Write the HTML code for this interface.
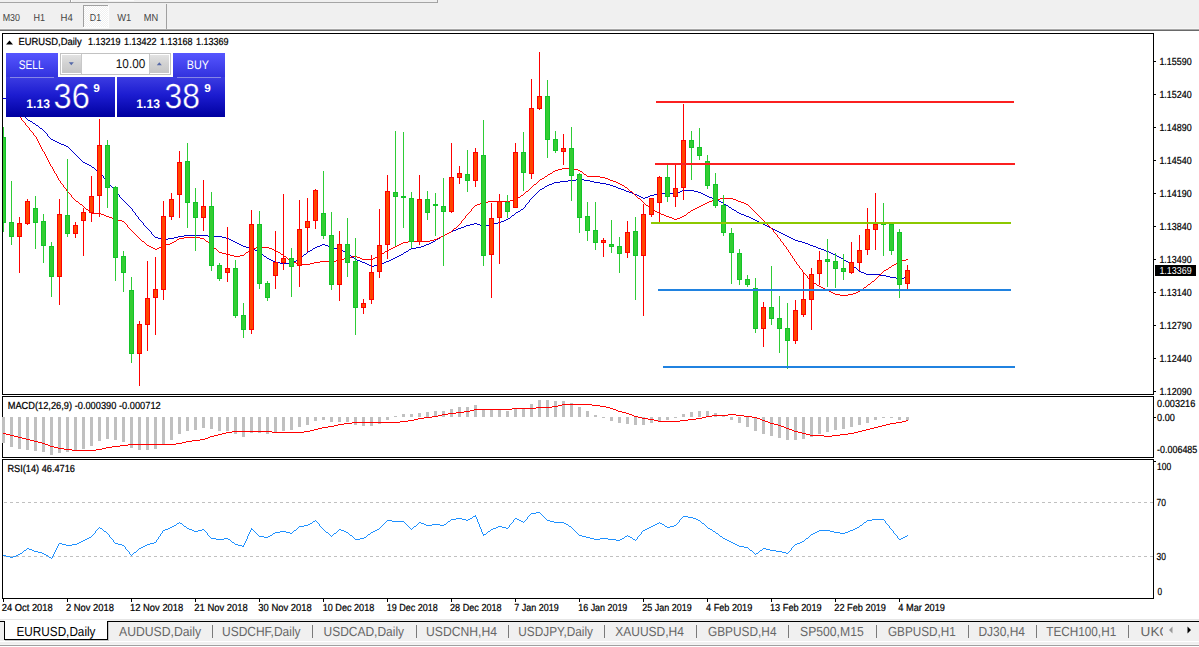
<!DOCTYPE html>
<html lang="en"><head><meta charset="utf-8"><title>EURUSD,Daily</title>
<style>
html,body{margin:0;padding:0;background:#fff;}
body{width:1199px;height:647px;overflow:hidden;position:relative;font-family:"Liberation Sans", Arial, sans-serif;}
svg{position:absolute;left:0;top:0;display:block;font-family:"Liberation Sans", Arial, sans-serif;text-rendering:geometricPrecision;}
.ce{shape-rendering:crispEdges;}
</style></head><body>
<svg width="1199" height="647" viewBox="0 0 1199 647">
<defs>
<linearGradient id="gBtn" x1="0" y1="53" x2="0" y2="77" gradientUnits="userSpaceOnUse"><stop offset="0" stop-color="#5656ff"/><stop offset="1" stop-color="#3232de"/></linearGradient>
<linearGradient id="gBox" x1="0" y1="77" x2="0" y2="117" gradientUnits="userSpaceOnUse"><stop offset="0" stop-color="#3c3ce2"/><stop offset="0.45" stop-color="#1c1cd0"/><stop offset="1" stop-color="#0000a0"/></linearGradient>
<linearGradient id="gSpin" x1="0" y1="54" x2="0" y2="73" gradientUnits="userSpaceOnUse"><stop offset="0" stop-color="#e4e4e4"/><stop offset="0.5" stop-color="#d2d2d2"/><stop offset="1" stop-color="#c6c6c6"/></linearGradient>
<pattern id="chk" width="2" height="2" patternUnits="userSpaceOnUse"><rect width="2" height="2" fill="#f0f0f0"/><rect width="1" height="1" fill="#fff"/><rect x="1" y="1" width="1" height="1" fill="#fff"/></pattern>
<clipPath id="cpMain"><rect x="3" y="34" width="1150" height="360"/></clipPath>
</defs>
<g id="toolbar" class="ce">
<rect x="0" y="0" width="1199" height="31" fill="#f0f0f0"/>
<rect x="0" y="2" width="438" height="1" fill="#a5a5a5"/>
<rect x="70" y="0" width="1" height="2" fill="#a0a0a0"/>
<rect x="71" y="0" width="1" height="2" fill="#fff"/>
<rect x="108" y="0" width="26" height="1" fill="#fafafa"/>
<rect x="437" y="0" width="1" height="3" fill="#a0a0a0"/>
<rect x="0" y="28" width="1199" height="1" fill="#f6f6f6"/>
<rect x="0" y="29" width="1199" height="1" fill="#a8a8a8"/>
<rect x="0" y="30" width="1199" height="1" fill="#696969"/>
<rect x="83" y="5" width="25" height="22" fill="url(#chk)"/>
<rect x="83" y="5" width="25" height="1" fill="#a0a0a0"/>
<rect x="83" y="5" width="1" height="22" fill="#a0a0a0"/>
<rect x="108" y="5" width="1" height="23" fill="#fdfdfd"/>
<rect x="83" y="27" width="26" height="1" fill="#fdfdfd"/>
<rect x="166" y="4" width="1" height="25" fill="#a0a0a0"/>
</g>
<g id="timeframes">
<text x="2.7" y="21.0" font-size="10.2" fill="#444" textLength="17.3" lengthAdjust="spacingAndGlyphs">M30</text>
<text x="33.5" y="21.0" font-size="10.2" fill="#444" textLength="11.5" lengthAdjust="spacingAndGlyphs">H1</text>
<text x="60.6" y="21.0" font-size="10.2" fill="#444" textLength="12.2" lengthAdjust="spacingAndGlyphs">H4</text>
<text x="89.8" y="21.0" font-size="10.2" fill="#444" textLength="11.3" lengthAdjust="spacingAndGlyphs">D1</text>
<text x="117.2" y="21.0" font-size="10.2" fill="#444" textLength="14.0" lengthAdjust="spacingAndGlyphs">W1</text>
<text x="143.7" y="21.0" font-size="10.2" fill="#444" textLength="14.4" lengthAdjust="spacingAndGlyphs">MN</text>
</g>
<g id="frames" class="ce" fill="#000">
<rect x="2" y="33" width="1152" height="1"/>
<rect x="2" y="394" width="1152" height="1"/>
<rect x="2" y="33" width="1" height="362"/>
<rect x="1153" y="33" width="1" height="362"/>
<rect x="2" y="396" width="1152" height="1"/>
<rect x="2" y="457" width="1152" height="1"/>
<rect x="2" y="396" width="1" height="62"/>
<rect x="1153" y="396" width="1" height="62"/>
<rect x="2" y="459" width="1152" height="1"/>
<rect x="2" y="598" width="1152" height="1"/>
<rect x="2" y="459" width="1" height="140"/>
<rect x="1153" y="459" width="1" height="140"/>
</g>
<g id="chart" clip-path="url(#cpMain)">
<path class="ce" d="M3,98.5h3M6,99.5h4M10,100.5h2M12,101.5h1M13,102.5h1M14,103.5h1M15,104.5h1M15,105.5h1M16,106.5h1M17,107.5h1M18,108.5h1M19,109.5h1M20,110.5h1M21,111.5h1M21,112.5h1M22,113.5h1M23,114.5h1M24,115.5h1M25,116.5h1M25,117.5h1M26,118.5h1M27,119.5h1M28,120.5h2M30,121.5h2M32,122.5h1M33,123.5h2M35,124.5h1M36,125.5h2M38,126.5h1M39,127.5h1M40,128.5h2M42,129.5h1M43,130.5h1M44,131.5h1M45,132.5h1M46,133.5h1M47,134.5h1M47,135.5h1M48,136.5h1M49,137.5h1M50,138.5h1M51,139.5h2M53,140.5h2M55,141.5h2M57,142.5h2M59,143.5h2M61,144.5h3M64,145.5h2M66,146.5h2M68,147.5h1M69,148.5h1M70,149.5h1M71,150.5h1M72,151.5h1M73,152.5h1M74,153.5h1M75,154.5h1M76,155.5h1M77,156.5h1M78,157.5h1M79,158.5h1M80,159.5h1M81,160.5h1M82,161.5h1M83,162.5h2M85,163.5h2M87,164.5h2M89,165.5h2M91,166.5h1M92,167.5h2M94,168.5h1M95,169.5h1M96,170.5h2M98,171.5h1M99,172.5h1M100,173.5h1M101,174.5h1M102,175.5h1M103,176.5h1M103,177.5h1M104,178.5h1M105,179.5h1M576,179.5h8M106,180.5h1M568,180.5h8M584,180.5h6M107,181.5h1M560,181.5h8M590,181.5h4M108,182.5h1M554,182.5h6M594,182.5h6M109,183.5h1M552,183.5h2M600,183.5h6M109,184.5h1M549,184.5h3M606,184.5h4M110,185.5h1M547,185.5h2M610,185.5h3M111,186.5h1M545,186.5h2M613,186.5h3M112,187.5h1M544,187.5h1M616,187.5h2M113,188.5h1M542,188.5h2M618,188.5h3M113,189.5h1M540,189.5h2M621,189.5h3M114,190.5h1M539,190.5h1M624,190.5h2M682,190.5h12M115,191.5h1M538,191.5h1M626,191.5h3M680,191.5h2M694,191.5h4M116,192.5h1M537,192.5h1M629,192.5h3M677,192.5h3M698,192.5h3M117,193.5h1M536,193.5h1M632,193.5h2M658,193.5h19M701,193.5h2M118,194.5h1M535,194.5h1M634,194.5h3M654,194.5h4M703,194.5h2M119,195.5h1M534,195.5h1M637,195.5h2M650,195.5h4M705,195.5h2M119,196.5h1M533,196.5h1M639,196.5h2M648,196.5h2M707,196.5h2M120,197.5h1M532,197.5h1M641,197.5h2M645,197.5h3M709,197.5h3M121,198.5h1M531,198.5h1M643,198.5h2M712,198.5h2M122,199.5h1M530,199.5h1M714,199.5h3M123,200.5h1M529,200.5h1M717,200.5h2M124,201.5h1M529,201.5h1M719,201.5h2M125,202.5h1M528,202.5h1M721,202.5h2M126,203.5h1M527,203.5h1M723,203.5h1M127,204.5h1M526,204.5h1M724,204.5h2M128,205.5h1M525,205.5h1M726,205.5h2M129,206.5h1M525,206.5h1M728,206.5h1M130,207.5h1M524,207.5h1M729,207.5h2M131,208.5h1M523,208.5h1M731,208.5h1M132,209.5h1M521,209.5h2M732,209.5h2M132,210.5h1M520,210.5h1M734,210.5h2M133,211.5h1M518,211.5h2M736,211.5h1M134,212.5h1M516,212.5h2M737,212.5h2M135,213.5h1M515,213.5h1M739,213.5h2M135,214.5h1M514,214.5h1M741,214.5h3M136,215.5h1M512,215.5h2M744,215.5h2M137,216.5h1M511,216.5h1M746,216.5h3M138,217.5h1M510,217.5h1M749,217.5h2M138,218.5h1M508,218.5h2M751,218.5h2M139,219.5h1M506,219.5h2M753,219.5h2M140,220.5h1M504,220.5h2M755,220.5h2M141,221.5h1M501,221.5h3M757,221.5h2M142,222.5h1M498,222.5h3M759,222.5h2M143,223.5h1M474,223.5h3M494,223.5h4M761,223.5h2M143,224.5h1M470,224.5h4M477,224.5h3M490,224.5h4M763,224.5h2M144,225.5h1M466,225.5h4M480,225.5h2M486,225.5h4M765,225.5h2M145,226.5h1M464,226.5h2M482,226.5h4M767,226.5h2M146,227.5h1M461,227.5h3M769,227.5h2M147,228.5h1M458,228.5h3M771,228.5h2M148,229.5h1M456,229.5h2M773,229.5h2M149,230.5h1M453,230.5h3M775,230.5h2M150,231.5h1M451,231.5h2M777,231.5h2M151,232.5h1M449,232.5h2M779,232.5h2M151,233.5h1M447,233.5h2M781,233.5h2M152,234.5h1M445,234.5h2M783,234.5h2M153,235.5h1M184,235.5h24M443,235.5h2M785,235.5h2M154,236.5h1M178,236.5h6M208,236.5h14M441,236.5h2M787,236.5h2M155,237.5h3M174,237.5h4M222,237.5h4M440,237.5h1M789,237.5h2M158,238.5h4M168,238.5h6M226,238.5h3M438,238.5h2M791,238.5h2M162,239.5h6M229,239.5h2M436,239.5h2M793,239.5h2M231,240.5h2M435,240.5h1M795,240.5h3M233,241.5h2M433,241.5h2M798,241.5h4M235,242.5h2M431,242.5h2M802,242.5h3M237,243.5h2M429,243.5h2M805,243.5h3M239,244.5h2M322,244.5h3M426,244.5h3M808,244.5h2M241,245.5h2M320,245.5h2M325,245.5h3M424,245.5h2M810,245.5h3M243,246.5h3M317,246.5h3M328,246.5h2M421,246.5h3M813,246.5h3M246,247.5h4M315,247.5h2M330,247.5h4M416,247.5h5M816,247.5h2M250,248.5h3M313,248.5h2M334,248.5h4M411,248.5h5M818,248.5h3M253,249.5h2M312,249.5h1M338,249.5h3M409,249.5h2M821,249.5h3M255,250.5h2M310,250.5h2M341,250.5h2M408,250.5h1M824,250.5h2M257,251.5h2M308,251.5h2M343,251.5h2M406,251.5h2M826,251.5h3M259,252.5h1M307,252.5h1M345,252.5h2M404,252.5h2M829,252.5h2M260,253.5h2M306,253.5h1M347,253.5h1M403,253.5h1M831,253.5h2M262,254.5h1M304,254.5h2M348,254.5h2M401,254.5h2M833,254.5h2M263,255.5h1M303,255.5h1M350,255.5h1M399,255.5h2M835,255.5h2M264,256.5h2M302,256.5h1M351,256.5h1M397,256.5h2M837,256.5h2M266,257.5h1M300,257.5h2M352,257.5h2M395,257.5h2M839,257.5h2M267,258.5h2M299,258.5h1M354,258.5h1M393,258.5h2M841,258.5h2M269,259.5h2M297,259.5h2M355,259.5h2M391,259.5h2M843,259.5h1M271,260.5h2M296,260.5h1M357,260.5h3M389,260.5h2M844,260.5h2M273,261.5h2M294,261.5h2M360,261.5h2M386,261.5h3M846,261.5h2M275,262.5h5M292,262.5h2M362,262.5h3M384,262.5h2M848,262.5h1M280,263.5h12M365,263.5h2M381,263.5h3M849,263.5h2M367,264.5h2M378,264.5h3M851,264.5h1M369,265.5h2M374,265.5h4M852,265.5h1M371,266.5h3M853,266.5h1M854,267.5h2M856,268.5h1M857,269.5h1M858,270.5h1M859,271.5h2M861,272.5h3M864,273.5h2M866,274.5h14M880,275.5h6M886,276.5h4M890,277.5h6M904,277.5h4M896,278.5h8" fill="none" stroke="#0000cd" stroke-width="1"/>
<path class="ce" d="M11,108.5h1M12,109.5h1M13,110.5h1M14,111.5h1M15,112.5h1M16,113.5h1M17,114.5h1M18,115.5h1M19,116.5h1M20,117.5h1M21,118.5h1M21,119.5h1M22,120.5h1M23,121.5h1M24,122.5h1M25,123.5h1M25,124.5h1M26,125.5h1M27,126.5h1M28,127.5h1M29,128.5h1M29,129.5h1M30,130.5h1M31,131.5h1M32,132.5h1M33,133.5h1M33,134.5h1M34,135.5h1M35,136.5h1M36,137.5h1M36,138.5h1M37,139.5h1M37,140.5h1M38,141.5h1M38,142.5h1M39,143.5h1M39,144.5h1M40,145.5h1M40,146.5h1M41,147.5h1M41,148.5h1M42,149.5h1M42,150.5h1M43,151.5h1M44,152.5h1M44,153.5h1M45,154.5h1M45,155.5h1M46,156.5h1M46,157.5h1M47,158.5h1M47,159.5h1M48,160.5h1M48,161.5h1M49,162.5h1M49,163.5h1M50,164.5h1M50,165.5h1M51,166.5h1M52,167.5h1M52,168.5h1M562,168.5h12M53,169.5h1M558,169.5h4M574,169.5h4M53,170.5h1M555,170.5h3M578,170.5h2M54,171.5h1M553,171.5h2M580,171.5h2M54,172.5h1M552,172.5h1M582,172.5h1M55,173.5h1M550,173.5h2M583,173.5h1M56,174.5h1M548,174.5h2M584,174.5h2M56,175.5h1M547,175.5h1M586,175.5h1M57,176.5h1M545,176.5h2M587,176.5h13M57,177.5h1M544,177.5h1M600,177.5h5M58,178.5h1M542,178.5h2M605,178.5h3M58,179.5h1M540,179.5h2M608,179.5h2M59,180.5h1M539,180.5h1M610,180.5h3M60,181.5h1M538,181.5h1M613,181.5h3M60,182.5h1M537,182.5h1M616,182.5h2M61,183.5h1M536,183.5h1M618,183.5h2M62,184.5h1M534,184.5h2M620,184.5h2M63,185.5h1M533,185.5h1M622,185.5h2M63,186.5h1M532,186.5h1M624,186.5h1M64,187.5h1M531,187.5h1M625,187.5h2M65,188.5h1M530,188.5h1M627,188.5h1M66,189.5h1M529,189.5h1M628,189.5h1M66,190.5h1M528,190.5h1M629,190.5h1M67,191.5h1M526,191.5h2M630,191.5h2M68,192.5h1M525,192.5h1M632,192.5h1M69,193.5h1M524,193.5h1M633,193.5h1M70,194.5h1M523,194.5h1M634,194.5h1M71,195.5h1M521,195.5h2M635,195.5h1M71,196.5h1M520,196.5h1M636,196.5h1M72,197.5h1M518,197.5h2M637,197.5h1M73,198.5h1M516,198.5h2M638,198.5h2M720,198.5h13M74,199.5h1M514,199.5h2M640,199.5h1M714,199.5h6M733,199.5h3M75,200.5h1M510,200.5h4M641,200.5h1M712,200.5h2M736,200.5h2M76,201.5h2M488,201.5h22M642,201.5h1M709,201.5h3M738,201.5h3M78,202.5h1M482,202.5h6M643,202.5h1M707,202.5h2M741,202.5h3M79,203.5h1M480,203.5h2M644,203.5h1M705,203.5h2M744,203.5h2M80,204.5h2M477,204.5h3M645,204.5h1M703,204.5h2M746,204.5h2M82,205.5h1M475,205.5h2M646,205.5h2M701,205.5h2M748,205.5h1M83,206.5h1M474,206.5h1M648,206.5h1M699,206.5h2M749,206.5h1M84,207.5h1M473,207.5h1M649,207.5h1M697,207.5h2M750,207.5h1M85,208.5h1M472,208.5h1M650,208.5h1M695,208.5h2M751,208.5h1M86,209.5h2M471,209.5h1M651,209.5h2M693,209.5h2M752,209.5h1M88,210.5h1M471,210.5h1M653,210.5h2M691,210.5h2M753,210.5h1M89,211.5h1M470,211.5h1M655,211.5h2M690,211.5h1M754,211.5h1M90,212.5h1M469,212.5h1M657,212.5h2M688,212.5h2M755,212.5h1M91,213.5h10M468,213.5h1M659,213.5h2M687,213.5h1M756,213.5h1M101,214.5h3M467,214.5h1M661,214.5h3M686,214.5h1M757,214.5h1M104,215.5h2M466,215.5h1M664,215.5h2M684,215.5h2M758,215.5h1M106,216.5h3M465,216.5h1M666,216.5h3M682,216.5h2M759,216.5h1M109,217.5h3M465,217.5h1M669,217.5h3M680,217.5h2M760,217.5h1M112,218.5h2M464,218.5h1M672,218.5h2M677,218.5h3M761,218.5h1M114,219.5h4M463,219.5h1M674,219.5h3M762,219.5h1M118,220.5h4M462,220.5h1M763,220.5h1M122,221.5h2M461,221.5h1M764,221.5h1M124,222.5h1M461,222.5h1M765,222.5h1M125,223.5h1M460,223.5h1M766,223.5h1M126,224.5h1M459,224.5h1M767,224.5h1M127,225.5h1M458,225.5h1M768,225.5h1M127,226.5h1M457,226.5h1M769,226.5h1M128,227.5h1M456,227.5h1M770,227.5h1M129,228.5h1M454,228.5h2M771,228.5h1M130,229.5h1M453,229.5h1M772,229.5h1M131,230.5h1M452,230.5h1M773,230.5h1M132,231.5h1M451,231.5h1M773,231.5h1M133,232.5h1M449,232.5h2M774,232.5h1M134,233.5h1M447,233.5h2M775,233.5h1M135,234.5h1M445,234.5h2M776,234.5h1M136,235.5h1M443,235.5h2M777,235.5h1M137,236.5h1M441,236.5h2M777,236.5h1M138,237.5h1M184,237.5h16M439,237.5h2M778,237.5h1M139,238.5h1M179,238.5h5M200,238.5h4M437,238.5h2M779,238.5h1M140,239.5h1M177,239.5h2M204,239.5h1M434,239.5h3M780,239.5h1M141,240.5h1M176,240.5h1M205,240.5h1M430,240.5h4M780,240.5h1M142,241.5h2M174,241.5h2M206,241.5h2M408,241.5h22M781,241.5h1M144,242.5h1M172,242.5h2M208,242.5h1M403,242.5h5M782,242.5h1M145,243.5h1M170,243.5h2M209,243.5h1M401,243.5h2M783,243.5h1M146,244.5h1M166,244.5h4M210,244.5h1M399,244.5h2M783,244.5h1M147,245.5h2M163,245.5h3M211,245.5h1M397,245.5h2M784,245.5h1M149,246.5h2M161,246.5h2M212,246.5h1M395,246.5h2M785,246.5h1M151,247.5h2M159,247.5h2M213,247.5h1M256,247.5h13M393,247.5h2M786,247.5h1M153,248.5h2M157,248.5h2M214,248.5h2M251,248.5h5M269,248.5h3M391,248.5h2M786,248.5h1M155,249.5h2M216,249.5h1M250,249.5h1M272,249.5h2M389,249.5h2M787,249.5h1M217,250.5h1M249,250.5h1M274,250.5h2M387,250.5h2M788,250.5h1M218,251.5h1M248,251.5h1M276,251.5h2M385,251.5h2M788,251.5h1M219,252.5h3M246,252.5h2M278,252.5h2M384,252.5h1M789,252.5h1M222,253.5h4M245,253.5h1M280,253.5h1M382,253.5h2M790,253.5h1M226,254.5h4M244,254.5h1M281,254.5h2M380,254.5h2M790,254.5h1M230,255.5h4M240,255.5h4M283,255.5h1M379,255.5h1M791,255.5h1M234,256.5h6M284,256.5h2M352,256.5h5M377,256.5h2M792,256.5h1M286,257.5h1M346,257.5h6M357,257.5h3M375,257.5h2M792,257.5h1M287,258.5h1M344,258.5h2M360,258.5h2M373,258.5h2M793,258.5h1M288,259.5h2M341,259.5h3M362,259.5h11M794,259.5h1M906,259.5h2M290,260.5h1M336,260.5h5M794,260.5h1M902,260.5h4M291,261.5h2M320,261.5h16M795,261.5h1M899,261.5h3M293,262.5h3M314,262.5h6M796,262.5h1M897,262.5h2M296,263.5h2M310,263.5h4M796,263.5h1M896,263.5h1M298,264.5h12M797,264.5h1M894,264.5h2M798,265.5h1M892,265.5h2M799,266.5h1M891,266.5h1M799,267.5h1M889,267.5h2M800,268.5h1M888,268.5h1M801,269.5h1M886,269.5h2M802,270.5h1M884,270.5h2M802,271.5h1M883,271.5h1M803,272.5h1M882,272.5h1M804,273.5h1M881,273.5h1M805,274.5h1M880,274.5h1M806,275.5h1M879,275.5h1M807,276.5h1M878,276.5h1M807,277.5h1M877,277.5h1M808,278.5h1M876,278.5h1M809,279.5h1M875,279.5h1M810,280.5h1M874,280.5h1M811,281.5h1M872,281.5h2M812,282.5h2M871,282.5h1M814,283.5h2M870,283.5h1M816,284.5h1M868,284.5h2M817,285.5h2M867,285.5h1M819,286.5h2M866,286.5h1M821,287.5h2M864,287.5h2M823,288.5h2M863,288.5h1M825,289.5h2M862,289.5h1M827,290.5h2M860,290.5h2M829,291.5h2M858,291.5h2M831,292.5h2M856,292.5h2M833,293.5h2M853,293.5h3M835,294.5h5M848,294.5h5M840,295.5h8" fill="none" stroke="#ff0000" stroke-width="1"/>
<g id="candles" class="ce">
<rect x="3" y="127" width="1" height="105" fill="#2ecc36"/>
<rect x="1" y="137" width="5" height="86" fill="#12c428"/>
<rect x="2" y="138" width="3" height="84" fill="#32cd32"/>
<rect x="11" y="181" width="1" height="64" fill="#2ecc36"/>
<rect x="9" y="222" width="5" height="15" fill="#12c428"/>
<rect x="10" y="223" width="3" height="13" fill="#32cd32"/>
<rect x="19" y="217" width="1" height="56" fill="#ff0000"/>
<rect x="17" y="223" width="5" height="14" fill="#ff0000"/>
<rect x="18" y="224" width="3" height="12" fill="#ff4500"/>
<rect x="27" y="199" width="1" height="26" fill="#ff0000"/>
<rect x="25" y="201" width="5" height="23" fill="#ff0000"/>
<rect x="26" y="202" width="3" height="21" fill="#ff4500"/>
<rect x="35" y="196" width="1" height="53" fill="#2ecc36"/>
<rect x="33" y="208" width="5" height="15" fill="#12c428"/>
<rect x="34" y="209" width="3" height="13" fill="#32cd32"/>
<rect x="43" y="214" width="1" height="49" fill="#2ecc36"/>
<rect x="41" y="221" width="5" height="25" fill="#12c428"/>
<rect x="42" y="222" width="3" height="23" fill="#32cd32"/>
<rect x="51" y="242" width="1" height="55" fill="#2ecc36"/>
<rect x="49" y="246" width="5" height="31" fill="#12c428"/>
<rect x="50" y="247" width="3" height="29" fill="#32cd32"/>
<rect x="59" y="199" width="1" height="106" fill="#ff0000"/>
<rect x="57" y="214" width="5" height="63" fill="#ff0000"/>
<rect x="58" y="215" width="3" height="61" fill="#ff4500"/>
<rect x="67" y="159" width="1" height="78" fill="#2ecc36"/>
<rect x="65" y="215" width="5" height="19" fill="#12c428"/>
<rect x="66" y="216" width="3" height="17" fill="#32cd32"/>
<rect x="75" y="222" width="1" height="16" fill="#ff0000"/>
<rect x="73" y="225" width="5" height="9" fill="#ff0000"/>
<rect x="74" y="226" width="3" height="7" fill="#ff4500"/>
<rect x="83" y="208" width="1" height="48" fill="#ff0000"/>
<rect x="81" y="212" width="5" height="9" fill="#ff0000"/>
<rect x="82" y="213" width="3" height="7" fill="#ff4500"/>
<rect x="91" y="176" width="1" height="46" fill="#ff0000"/>
<rect x="89" y="196" width="5" height="17" fill="#ff0000"/>
<rect x="90" y="197" width="3" height="15" fill="#ff4500"/>
<rect x="99" y="119" width="1" height="98" fill="#ff0000"/>
<rect x="97" y="145" width="5" height="51" fill="#ff0000"/>
<rect x="98" y="146" width="3" height="49" fill="#ff4500"/>
<rect x="107" y="140" width="1" height="68" fill="#2ecc36"/>
<rect x="105" y="145" width="5" height="43" fill="#12c428"/>
<rect x="106" y="146" width="3" height="41" fill="#32cd32"/>
<rect x="115" y="186" width="1" height="95" fill="#2ecc36"/>
<rect x="113" y="187" width="5" height="71" fill="#12c428"/>
<rect x="114" y="188" width="3" height="69" fill="#32cd32"/>
<rect x="123" y="251" width="1" height="41" fill="#2ecc36"/>
<rect x="121" y="256" width="5" height="17" fill="#12c428"/>
<rect x="122" y="257" width="3" height="15" fill="#32cd32"/>
<rect x="131" y="277" width="1" height="86" fill="#2ecc36"/>
<rect x="129" y="290" width="5" height="64" fill="#12c428"/>
<rect x="130" y="291" width="3" height="62" fill="#32cd32"/>
<rect x="139" y="321" width="1" height="65" fill="#ff0000"/>
<rect x="137" y="324" width="5" height="30" fill="#ff0000"/>
<rect x="138" y="325" width="3" height="28" fill="#ff4500"/>
<rect x="147" y="261" width="1" height="90" fill="#ff0000"/>
<rect x="145" y="298" width="5" height="27" fill="#ff0000"/>
<rect x="146" y="299" width="3" height="25" fill="#ff4500"/>
<rect x="155" y="257" width="1" height="78" fill="#ff0000"/>
<rect x="153" y="289" width="5" height="9" fill="#ff0000"/>
<rect x="154" y="290" width="3" height="7" fill="#ff4500"/>
<rect x="163" y="201" width="1" height="99" fill="#ff0000"/>
<rect x="161" y="216" width="5" height="74" fill="#ff0000"/>
<rect x="162" y="217" width="3" height="72" fill="#ff4500"/>
<rect x="171" y="193" width="1" height="27" fill="#ff0000"/>
<rect x="169" y="199" width="5" height="18" fill="#ff0000"/>
<rect x="170" y="200" width="3" height="16" fill="#ff4500"/>
<rect x="179" y="151" width="1" height="67" fill="#ff0000"/>
<rect x="177" y="162" width="5" height="33" fill="#ff0000"/>
<rect x="178" y="163" width="3" height="31" fill="#ff4500"/>
<rect x="187" y="143" width="1" height="85" fill="#2ecc36"/>
<rect x="185" y="161" width="5" height="42" fill="#12c428"/>
<rect x="186" y="162" width="3" height="40" fill="#32cd32"/>
<rect x="195" y="188" width="1" height="63" fill="#2ecc36"/>
<rect x="193" y="202" width="5" height="16" fill="#12c428"/>
<rect x="194" y="203" width="3" height="14" fill="#32cd32"/>
<rect x="203" y="180" width="1" height="51" fill="#ff0000"/>
<rect x="201" y="206" width="5" height="12" fill="#ff0000"/>
<rect x="202" y="207" width="3" height="10" fill="#ff4500"/>
<rect x="211" y="192" width="1" height="79" fill="#2ecc36"/>
<rect x="209" y="206" width="5" height="60" fill="#12c428"/>
<rect x="210" y="207" width="3" height="58" fill="#32cd32"/>
<rect x="219" y="263" width="1" height="18" fill="#2ecc36"/>
<rect x="217" y="265" width="5" height="14" fill="#12c428"/>
<rect x="218" y="266" width="3" height="12" fill="#32cd32"/>
<rect x="227" y="227" width="1" height="55" fill="#ff0000"/>
<rect x="225" y="268" width="5" height="5" fill="#ff0000"/>
<rect x="226" y="269" width="3" height="3" fill="#ff4500"/>
<rect x="235" y="260" width="1" height="58" fill="#2ecc36"/>
<rect x="233" y="268" width="5" height="48" fill="#12c428"/>
<rect x="234" y="269" width="3" height="46" fill="#32cd32"/>
<rect x="243" y="303" width="1" height="35" fill="#2ecc36"/>
<rect x="241" y="315" width="5" height="15" fill="#12c428"/>
<rect x="242" y="316" width="3" height="13" fill="#32cd32"/>
<rect x="251" y="210" width="1" height="124" fill="#ff0000"/>
<rect x="249" y="224" width="5" height="106" fill="#ff0000"/>
<rect x="250" y="225" width="3" height="104" fill="#ff4500"/>
<rect x="259" y="211" width="1" height="78" fill="#2ecc36"/>
<rect x="257" y="224" width="5" height="60" fill="#12c428"/>
<rect x="258" y="225" width="3" height="58" fill="#32cd32"/>
<rect x="267" y="281" width="1" height="20" fill="#2ecc36"/>
<rect x="265" y="283" width="5" height="15" fill="#12c428"/>
<rect x="266" y="284" width="3" height="13" fill="#32cd32"/>
<rect x="275" y="231" width="1" height="58" fill="#ff0000"/>
<rect x="273" y="262" width="5" height="14" fill="#ff0000"/>
<rect x="274" y="263" width="3" height="12" fill="#ff4500"/>
<rect x="283" y="194" width="1" height="76" fill="#ff0000"/>
<rect x="281" y="258" width="5" height="5" fill="#ff0000"/>
<rect x="282" y="259" width="3" height="3" fill="#ff4500"/>
<rect x="291" y="248" width="1" height="49" fill="#2ecc36"/>
<rect x="289" y="258" width="5" height="9" fill="#12c428"/>
<rect x="290" y="259" width="3" height="7" fill="#32cd32"/>
<rect x="299" y="200" width="1" height="87" fill="#ff0000"/>
<rect x="297" y="229" width="5" height="37" fill="#ff0000"/>
<rect x="298" y="230" width="3" height="35" fill="#ff4500"/>
<rect x="307" y="198" width="1" height="54" fill="#ff0000"/>
<rect x="305" y="221" width="5" height="7" fill="#ff0000"/>
<rect x="306" y="222" width="3" height="5" fill="#ff4500"/>
<rect x="315" y="189" width="1" height="40" fill="#ff0000"/>
<rect x="313" y="190" width="5" height="31" fill="#ff0000"/>
<rect x="314" y="191" width="3" height="29" fill="#ff4500"/>
<rect x="323" y="171" width="1" height="68" fill="#2ecc36"/>
<rect x="321" y="213" width="5" height="23" fill="#12c428"/>
<rect x="322" y="214" width="3" height="21" fill="#32cd32"/>
<rect x="331" y="212" width="1" height="78" fill="#2ecc36"/>
<rect x="329" y="235" width="5" height="50" fill="#12c428"/>
<rect x="330" y="236" width="3" height="48" fill="#32cd32"/>
<rect x="339" y="231" width="1" height="70" fill="#ff0000"/>
<rect x="337" y="244" width="5" height="41" fill="#ff0000"/>
<rect x="338" y="245" width="3" height="39" fill="#ff4500"/>
<rect x="347" y="218" width="1" height="59" fill="#2ecc36"/>
<rect x="345" y="244" width="5" height="19" fill="#12c428"/>
<rect x="346" y="245" width="3" height="17" fill="#32cd32"/>
<rect x="355" y="238" width="1" height="97" fill="#2ecc36"/>
<rect x="353" y="261" width="5" height="47" fill="#12c428"/>
<rect x="354" y="262" width="3" height="45" fill="#32cd32"/>
<rect x="363" y="299" width="1" height="15" fill="#ff0000"/>
<rect x="361" y="303" width="5" height="5" fill="#ff0000"/>
<rect x="362" y="304" width="3" height="3" fill="#ff4500"/>
<rect x="371" y="255" width="1" height="49" fill="#ff0000"/>
<rect x="369" y="272" width="5" height="28" fill="#ff0000"/>
<rect x="370" y="273" width="3" height="26" fill="#ff4500"/>
<rect x="379" y="209" width="1" height="69" fill="#ff0000"/>
<rect x="377" y="245" width="5" height="27" fill="#ff0000"/>
<rect x="378" y="246" width="3" height="25" fill="#ff4500"/>
<rect x="387" y="175" width="1" height="84" fill="#ff0000"/>
<rect x="385" y="191" width="5" height="54" fill="#ff0000"/>
<rect x="386" y="192" width="3" height="52" fill="#ff4500"/>
<rect x="395" y="131" width="1" height="115" fill="#2ecc36"/>
<rect x="393" y="192" width="5" height="5" fill="#12c428"/>
<rect x="394" y="193" width="3" height="3" fill="#32cd32"/>
<rect x="403" y="132" width="1" height="96" fill="#2ecc36"/>
<rect x="401" y="196" width="5" height="2" fill="#12c428"/>
<rect x="411" y="192" width="1" height="56" fill="#2ecc36"/>
<rect x="409" y="198" width="5" height="44" fill="#12c428"/>
<rect x="410" y="199" width="3" height="42" fill="#32cd32"/>
<rect x="419" y="175" width="1" height="70" fill="#ff0000"/>
<rect x="417" y="199" width="5" height="43" fill="#ff0000"/>
<rect x="418" y="200" width="3" height="41" fill="#ff4500"/>
<rect x="427" y="191" width="1" height="29" fill="#2ecc36"/>
<rect x="425" y="199" width="5" height="14" fill="#12c428"/>
<rect x="426" y="200" width="3" height="12" fill="#32cd32"/>
<rect x="435" y="193" width="1" height="43" fill="#2ecc36"/>
<rect x="433" y="204" width="5" height="2" fill="#12c428"/>
<rect x="443" y="178" width="1" height="88" fill="#2ecc36"/>
<rect x="441" y="206" width="5" height="6" fill="#12c428"/>
<rect x="442" y="207" width="3" height="4" fill="#32cd32"/>
<rect x="451" y="143" width="1" height="70" fill="#ff0000"/>
<rect x="449" y="177" width="5" height="35" fill="#ff0000"/>
<rect x="450" y="178" width="3" height="33" fill="#ff4500"/>
<rect x="459" y="166" width="1" height="18" fill="#ff0000"/>
<rect x="457" y="173" width="5" height="5" fill="#ff0000"/>
<rect x="458" y="174" width="3" height="3" fill="#ff4500"/>
<rect x="467" y="150" width="1" height="42" fill="#2ecc36"/>
<rect x="465" y="174" width="5" height="7" fill="#12c428"/>
<rect x="466" y="175" width="3" height="5" fill="#32cd32"/>
<rect x="475" y="148" width="1" height="39" fill="#ff0000"/>
<rect x="473" y="152" width="5" height="29" fill="#ff0000"/>
<rect x="474" y="153" width="3" height="27" fill="#ff4500"/>
<rect x="483" y="120" width="1" height="146" fill="#2ecc36"/>
<rect x="481" y="155" width="5" height="101" fill="#12c428"/>
<rect x="482" y="156" width="3" height="99" fill="#32cd32"/>
<rect x="491" y="203" width="1" height="95" fill="#ff0000"/>
<rect x="489" y="218" width="5" height="37" fill="#ff0000"/>
<rect x="490" y="219" width="3" height="35" fill="#ff4500"/>
<rect x="499" y="194" width="1" height="70" fill="#ff0000"/>
<rect x="497" y="201" width="5" height="17" fill="#ff0000"/>
<rect x="498" y="202" width="3" height="15" fill="#ff4500"/>
<rect x="507" y="195" width="1" height="23" fill="#2ecc36"/>
<rect x="505" y="202" width="5" height="10" fill="#12c428"/>
<rect x="506" y="203" width="3" height="8" fill="#32cd32"/>
<rect x="515" y="143" width="1" height="65" fill="#ff0000"/>
<rect x="513" y="152" width="5" height="56" fill="#ff0000"/>
<rect x="514" y="153" width="3" height="54" fill="#ff4500"/>
<rect x="523" y="132" width="1" height="59" fill="#2ecc36"/>
<rect x="521" y="152" width="5" height="21" fill="#12c428"/>
<rect x="522" y="153" width="3" height="19" fill="#32cd32"/>
<rect x="531" y="79" width="1" height="100" fill="#ff0000"/>
<rect x="529" y="108" width="5" height="66" fill="#ff0000"/>
<rect x="530" y="109" width="3" height="64" fill="#ff4500"/>
<rect x="539" y="52" width="1" height="58" fill="#ff0000"/>
<rect x="537" y="96" width="5" height="13" fill="#ff0000"/>
<rect x="538" y="97" width="3" height="11" fill="#ff4500"/>
<rect x="547" y="80" width="1" height="78" fill="#2ecc36"/>
<rect x="545" y="96" width="5" height="44" fill="#12c428"/>
<rect x="546" y="97" width="3" height="42" fill="#32cd32"/>
<rect x="555" y="131" width="1" height="22" fill="#2ecc36"/>
<rect x="553" y="139" width="5" height="12" fill="#12c428"/>
<rect x="554" y="140" width="3" height="10" fill="#32cd32"/>
<rect x="563" y="134" width="1" height="31" fill="#ff0000"/>
<rect x="561" y="148" width="5" height="4" fill="#ff0000"/>
<rect x="562" y="149" width="3" height="2" fill="#ff4500"/>
<rect x="571" y="127" width="1" height="74" fill="#2ecc36"/>
<rect x="569" y="148" width="5" height="28" fill="#12c428"/>
<rect x="570" y="149" width="3" height="26" fill="#32cd32"/>
<rect x="579" y="173" width="1" height="60" fill="#2ecc36"/>
<rect x="577" y="174" width="5" height="44" fill="#12c428"/>
<rect x="578" y="175" width="3" height="42" fill="#32cd32"/>
<rect x="587" y="202" width="1" height="39" fill="#2ecc36"/>
<rect x="585" y="216" width="5" height="15" fill="#12c428"/>
<rect x="586" y="217" width="3" height="13" fill="#32cd32"/>
<rect x="595" y="202" width="1" height="48" fill="#2ecc36"/>
<rect x="593" y="230" width="5" height="13" fill="#12c428"/>
<rect x="594" y="231" width="3" height="11" fill="#32cd32"/>
<rect x="603" y="238" width="1" height="19" fill="#ff0000"/>
<rect x="601" y="240" width="5" height="3" fill="#ff0000"/>
<rect x="602" y="241" width="3" height="1" fill="#ff4500"/>
<rect x="611" y="220" width="1" height="33" fill="#2ecc36"/>
<rect x="609" y="244" width="5" height="3" fill="#12c428"/>
<rect x="610" y="245" width="3" height="1" fill="#32cd32"/>
<rect x="619" y="237" width="1" height="36" fill="#2ecc36"/>
<rect x="617" y="246" width="5" height="8" fill="#12c428"/>
<rect x="618" y="247" width="3" height="6" fill="#32cd32"/>
<rect x="627" y="221" width="1" height="37" fill="#ff0000"/>
<rect x="625" y="232" width="5" height="21" fill="#ff0000"/>
<rect x="626" y="233" width="3" height="19" fill="#ff4500"/>
<rect x="635" y="217" width="1" height="83" fill="#2ecc36"/>
<rect x="633" y="231" width="5" height="25" fill="#12c428"/>
<rect x="634" y="232" width="3" height="23" fill="#32cd32"/>
<rect x="643" y="204" width="1" height="112" fill="#ff0000"/>
<rect x="641" y="214" width="5" height="42" fill="#ff0000"/>
<rect x="642" y="215" width="3" height="40" fill="#ff4500"/>
<rect x="651" y="198" width="1" height="19" fill="#ff0000"/>
<rect x="649" y="198" width="5" height="17" fill="#ff0000"/>
<rect x="650" y="199" width="3" height="15" fill="#ff4500"/>
<rect x="659" y="176" width="1" height="46" fill="#ff0000"/>
<rect x="657" y="177" width="5" height="26" fill="#ff0000"/>
<rect x="658" y="178" width="3" height="24" fill="#ff4500"/>
<rect x="667" y="165" width="1" height="37" fill="#2ecc36"/>
<rect x="665" y="177" width="5" height="20" fill="#12c428"/>
<rect x="666" y="178" width="3" height="18" fill="#32cd32"/>
<rect x="675" y="165" width="1" height="42" fill="#ff0000"/>
<rect x="673" y="188" width="5" height="9" fill="#ff0000"/>
<rect x="674" y="189" width="3" height="7" fill="#ff4500"/>
<rect x="683" y="104" width="1" height="96" fill="#ff0000"/>
<rect x="681" y="140" width="5" height="48" fill="#ff0000"/>
<rect x="682" y="141" width="3" height="46" fill="#ff4500"/>
<rect x="691" y="131" width="1" height="49" fill="#2ecc36"/>
<rect x="689" y="140" width="5" height="8" fill="#12c428"/>
<rect x="690" y="141" width="3" height="6" fill="#32cd32"/>
<rect x="699" y="128" width="1" height="32" fill="#2ecc36"/>
<rect x="697" y="147" width="5" height="9" fill="#12c428"/>
<rect x="698" y="148" width="3" height="7" fill="#32cd32"/>
<rect x="707" y="155" width="1" height="34" fill="#2ecc36"/>
<rect x="705" y="161" width="5" height="25" fill="#12c428"/>
<rect x="706" y="162" width="3" height="23" fill="#32cd32"/>
<rect x="715" y="173" width="1" height="35" fill="#2ecc36"/>
<rect x="713" y="184" width="5" height="22" fill="#12c428"/>
<rect x="714" y="185" width="3" height="20" fill="#32cd32"/>
<rect x="723" y="195" width="1" height="41" fill="#2ecc36"/>
<rect x="721" y="205" width="5" height="28" fill="#12c428"/>
<rect x="722" y="206" width="3" height="26" fill="#32cd32"/>
<rect x="731" y="228" width="1" height="56" fill="#2ecc36"/>
<rect x="729" y="233" width="5" height="20" fill="#12c428"/>
<rect x="730" y="234" width="3" height="18" fill="#32cd32"/>
<rect x="739" y="249" width="1" height="36" fill="#2ecc36"/>
<rect x="737" y="253" width="5" height="27" fill="#12c428"/>
<rect x="738" y="254" width="3" height="25" fill="#32cd32"/>
<rect x="747" y="275" width="1" height="12" fill="#2ecc36"/>
<rect x="745" y="279" width="5" height="6" fill="#12c428"/>
<rect x="746" y="280" width="3" height="4" fill="#32cd32"/>
<rect x="755" y="278" width="1" height="55" fill="#2ecc36"/>
<rect x="753" y="288" width="5" height="41" fill="#12c428"/>
<rect x="754" y="289" width="3" height="39" fill="#32cd32"/>
<rect x="763" y="302" width="1" height="45" fill="#ff0000"/>
<rect x="761" y="307" width="5" height="22" fill="#ff0000"/>
<rect x="762" y="308" width="3" height="20" fill="#ff4500"/>
<rect x="771" y="266" width="1" height="59" fill="#2ecc36"/>
<rect x="769" y="307" width="5" height="12" fill="#12c428"/>
<rect x="770" y="308" width="3" height="10" fill="#32cd32"/>
<rect x="779" y="296" width="1" height="57" fill="#2ecc36"/>
<rect x="777" y="318" width="5" height="11" fill="#12c428"/>
<rect x="778" y="319" width="3" height="9" fill="#32cd32"/>
<rect x="787" y="303" width="1" height="66" fill="#2ecc36"/>
<rect x="785" y="328" width="5" height="13" fill="#12c428"/>
<rect x="786" y="329" width="3" height="11" fill="#32cd32"/>
<rect x="795" y="300" width="1" height="44" fill="#ff0000"/>
<rect x="793" y="310" width="5" height="31" fill="#ff0000"/>
<rect x="794" y="311" width="3" height="29" fill="#ff4500"/>
<rect x="803" y="273" width="1" height="44" fill="#ff0000"/>
<rect x="801" y="299" width="5" height="16" fill="#ff0000"/>
<rect x="802" y="300" width="3" height="14" fill="#ff4500"/>
<rect x="811" y="268" width="1" height="62" fill="#ff0000"/>
<rect x="809" y="274" width="5" height="26" fill="#ff0000"/>
<rect x="810" y="275" width="3" height="24" fill="#ff4500"/>
<rect x="819" y="251" width="1" height="34" fill="#ff0000"/>
<rect x="817" y="260" width="5" height="14" fill="#ff0000"/>
<rect x="818" y="261" width="3" height="12" fill="#ff4500"/>
<rect x="827" y="239" width="1" height="48" fill="#2ecc36"/>
<rect x="825" y="259" width="5" height="3" fill="#12c428"/>
<rect x="826" y="260" width="3" height="1" fill="#32cd32"/>
<rect x="835" y="253" width="1" height="35" fill="#2ecc36"/>
<rect x="833" y="261" width="5" height="8" fill="#12c428"/>
<rect x="834" y="262" width="3" height="6" fill="#32cd32"/>
<rect x="843" y="254" width="1" height="26" fill="#2ecc36"/>
<rect x="841" y="268" width="5" height="4" fill="#12c428"/>
<rect x="842" y="269" width="3" height="2" fill="#32cd32"/>
<rect x="851" y="242" width="1" height="32" fill="#ff0000"/>
<rect x="849" y="262" width="5" height="11" fill="#ff0000"/>
<rect x="850" y="263" width="3" height="9" fill="#ff4500"/>
<rect x="859" y="235" width="1" height="36" fill="#ff0000"/>
<rect x="857" y="250" width="5" height="13" fill="#ff0000"/>
<rect x="858" y="251" width="3" height="11" fill="#ff4500"/>
<rect x="867" y="208" width="1" height="47" fill="#ff0000"/>
<rect x="865" y="229" width="5" height="21" fill="#ff0000"/>
<rect x="866" y="230" width="3" height="19" fill="#ff4500"/>
<rect x="875" y="193" width="1" height="57" fill="#ff0000"/>
<rect x="873" y="224" width="5" height="6" fill="#ff0000"/>
<rect x="874" y="225" width="3" height="4" fill="#ff4500"/>
<rect x="883" y="203" width="1" height="53" fill="#2ecc36"/>
<rect x="881" y="224" width="5" height="1" fill="#12c428"/>
<rect x="891" y="223" width="1" height="32" fill="#2ecc36"/>
<rect x="889" y="224" width="5" height="27" fill="#12c428"/>
<rect x="890" y="225" width="3" height="25" fill="#32cd32"/>
<rect x="899" y="229" width="1" height="69" fill="#2ecc36"/>
<rect x="897" y="232" width="5" height="53" fill="#12c428"/>
<rect x="898" y="233" width="3" height="51" fill="#32cd32"/>
<rect x="907" y="265" width="1" height="25" fill="#ff0000"/>
<rect x="905" y="270" width="5" height="14" fill="#ff0000"/>
<rect x="906" y="271" width="3" height="12" fill="#ff4500"/>
</g>
<g id="levels" class="ce">
<rect x="656" y="101" width="358" height="2" fill="#fb2020"/>
<rect x="655" y="163" width="360" height="2" fill="#fb2020"/>
<rect x="651" y="222" width="360" height="2" fill="#8cc800"/>
<rect x="658" y="289" width="353" height="2" fill="#2082e0"/>
<rect x="663" y="366" width="352" height="2" fill="#2082e0"/>
</g>
</g>
<g id="one-click-trading">
<g class="ce">
<rect x="6" y="53" width="219" height="64" fill="#fff"/>
<rect x="6" y="53" width="52" height="25" fill="url(#gBtn)"/>
<rect x="173" y="53" width="52" height="25" fill="url(#gBtn)"/>
<rect x="6" y="77" width="109" height="40" fill="url(#gBox)"/>
<rect x="117" y="77" width="108" height="40" fill="url(#gBox)"/>
<rect x="10" y="77" width="44" height="1" fill="#8686e6"/>
<rect x="177" y="77" width="44" height="1" fill="#8686e6"/>
<rect x="60" y="53" width="111" height="22" fill="#c2c2c2"/>
<rect x="61" y="54" width="109" height="20" fill="#fff"/>
<rect x="62" y="55" width="19" height="18" fill="url(#gSpin)"/>
<rect x="81" y="54" width="1" height="20" fill="#c8c8c8"/>
<rect x="150" y="55" width="19" height="18" fill="url(#gSpin)"/>
<rect x="149" y="54" width="1" height="20" fill="#c8c8c8"/>
</g>
<polygon points="68.8,62.2 73.8,62.2 71.3,65.2" fill="#5468a8"/>
<polygon points="156.8,65.2 161.8,65.2 159.3,62.2" fill="#5468a8"/>
<text x="18.7" y="68.8" font-size="12.5" fill="#fff" textLength="24.9" lengthAdjust="spacingAndGlyphs">SELL</text>
<text x="186.7" y="68.8" font-size="12.5" fill="#fff" textLength="22.2" lengthAdjust="spacingAndGlyphs">BUY</text>
<text x="115.8" y="68.0" font-size="12.9" fill="#111" textLength="29.5" lengthAdjust="spacingAndGlyphs">10.00</text>
<text x="26.3" y="107.7" font-size="12.5" fill="#fff" font-weight="bold" textLength="23.6" lengthAdjust="spacingAndGlyphs">1.13</text>
<text x="136.3" y="107.7" font-size="12.5" fill="#fff" font-weight="bold" textLength="23.6" lengthAdjust="spacingAndGlyphs">1.13</text>
<text x="53.6" y="108.0" font-size="34.9" fill="#fff" textLength="36.2" lengthAdjust="spacingAndGlyphs" stroke="url(#gBox)" stroke-width="0.35">36</text>
<text x="164.6" y="108.0" font-size="34.9" fill="#fff" textLength="35.4" lengthAdjust="spacingAndGlyphs" stroke="url(#gBox)" stroke-width="0.35">38</text>
<text x="93.3" y="92.2" font-size="11.4" fill="#fff" font-weight="bold" textLength="6.6" lengthAdjust="spacingAndGlyphs">9</text>
<text x="204.2" y="92.2" font-size="11.4" fill="#fff" font-weight="bold" textLength="6.6" lengthAdjust="spacingAndGlyphs">9</text>
</g>
<g id="title">
<polygon points="6,44.5 13,44.5 9.5,40.5" fill="#000"/>
<text x="18.4" y="45.0" font-size="10.2" fill="#000" textLength="63.2" lengthAdjust="spacingAndGlyphs" stroke="#000" stroke-width="0.22">EURUSD,Daily</text>
<text x="88.0" y="45.0" font-size="10.2" fill="#000" textLength="32.5" lengthAdjust="spacingAndGlyphs" stroke="#000" stroke-width="0.22">1.13219</text>
<text x="124.0" y="45.0" font-size="10.2" fill="#000" textLength="32.5" lengthAdjust="spacingAndGlyphs" stroke="#000" stroke-width="0.22">1.13422</text>
<text x="160.0" y="45.0" font-size="10.2" fill="#000" textLength="32.5" lengthAdjust="spacingAndGlyphs" stroke="#000" stroke-width="0.22">1.13168</text>
<text x="196.0" y="45.0" font-size="10.2" fill="#000" textLength="32.5" lengthAdjust="spacingAndGlyphs" stroke="#000" stroke-width="0.22">1.13369</text>
</g>
<g id="price-axis">
<rect class="ce" x="1154" y="61" width="2" height="1" fill="#000"/>
<text x="1159.4" y="65.2" font-size="10.2" fill="#000" textLength="32.2" lengthAdjust="spacingAndGlyphs" stroke="#000" stroke-width="0.22">1.15590</text>
<rect class="ce" x="1154" y="94" width="2" height="1" fill="#000"/>
<text x="1159.4" y="98.2" font-size="10.2" fill="#000" textLength="32.2" lengthAdjust="spacingAndGlyphs" stroke="#000" stroke-width="0.22">1.15240</text>
<rect class="ce" x="1154" y="127" width="2" height="1" fill="#000"/>
<text x="1159.4" y="131.1" font-size="10.2" fill="#000" textLength="32.2" lengthAdjust="spacingAndGlyphs" stroke="#000" stroke-width="0.22">1.14890</text>
<rect class="ce" x="1154" y="160" width="2" height="1" fill="#000"/>
<text x="1159.4" y="164.1" font-size="10.2" fill="#000" textLength="32.2" lengthAdjust="spacingAndGlyphs" stroke="#000" stroke-width="0.22">1.14540</text>
<rect class="ce" x="1154" y="193" width="2" height="1" fill="#000"/>
<text x="1159.4" y="197.1" font-size="10.2" fill="#000" textLength="32.2" lengthAdjust="spacingAndGlyphs" stroke="#000" stroke-width="0.22">1.14190</text>
<rect class="ce" x="1154" y="226" width="2" height="1" fill="#000"/>
<text x="1159.4" y="230.1" font-size="10.2" fill="#000" textLength="32.2" lengthAdjust="spacingAndGlyphs" stroke="#000" stroke-width="0.22">1.13840</text>
<rect class="ce" x="1154" y="259" width="2" height="1" fill="#000"/>
<text x="1159.4" y="263.0" font-size="10.2" fill="#000" textLength="32.2" lengthAdjust="spacingAndGlyphs" stroke="#000" stroke-width="0.22">1.13490</text>
<rect class="ce" x="1154" y="292" width="2" height="1" fill="#000"/>
<text x="1159.4" y="296.0" font-size="10.2" fill="#000" textLength="32.2" lengthAdjust="spacingAndGlyphs" stroke="#000" stroke-width="0.22">1.13140</text>
<rect class="ce" x="1154" y="325" width="2" height="1" fill="#000"/>
<text x="1159.4" y="329.0" font-size="10.2" fill="#000" textLength="32.2" lengthAdjust="spacingAndGlyphs" stroke="#000" stroke-width="0.22">1.12790</text>
<rect class="ce" x="1154" y="358" width="2" height="1" fill="#000"/>
<text x="1159.4" y="361.9" font-size="10.2" fill="#000" textLength="32.2" lengthAdjust="spacingAndGlyphs" stroke="#000" stroke-width="0.22">1.12440</text>
<rect class="ce" x="1154" y="391" width="2" height="1" fill="#000"/>
<text x="1159.4" y="394.9" font-size="10.2" fill="#000" textLength="32.2" lengthAdjust="spacingAndGlyphs" stroke="#000" stroke-width="0.22">1.12090</text>
<rect class="ce" x="1155" y="265" width="41" height="11" fill="#000"/>
<text x="1159.4" y="274.3" font-size="10.2" fill="#fff" textLength="32.2" lengthAdjust="spacingAndGlyphs">1.13369</text>
</g>
<g id="macd">
<g class="ce" fill="#c0c0c0">
<rect x="2" y="417" width="3" height="26"/>
<rect x="10" y="417" width="3" height="30"/>
<rect x="18" y="417" width="3" height="32"/>
<rect x="26" y="417" width="3" height="33"/>
<rect x="34" y="417" width="3" height="34"/>
<rect x="42" y="417" width="3" height="35"/>
<rect x="50" y="417" width="3" height="38"/>
<rect x="58" y="417" width="3" height="36"/>
<rect x="66" y="417" width="3" height="35"/>
<rect x="74" y="417" width="3" height="33"/>
<rect x="82" y="417" width="3" height="32"/>
<rect x="90" y="417" width="3" height="29"/>
<rect x="98" y="417" width="3" height="24"/>
<rect x="106" y="417" width="3" height="22"/>
<rect x="114" y="417" width="3" height="23"/>
<rect x="122" y="417" width="3" height="25"/>
<rect x="130" y="417" width="3" height="31"/>
<rect x="138" y="417" width="3" height="33"/>
<rect x="146" y="417" width="3" height="33"/>
<rect x="154" y="417" width="3" height="32"/>
<rect x="162" y="417" width="3" height="27"/>
<rect x="170" y="417" width="3" height="23"/>
<rect x="178" y="417" width="3" height="17"/>
<rect x="186" y="417" width="3" height="14"/>
<rect x="194" y="417" width="3" height="13"/>
<rect x="202" y="417" width="3" height="11"/>
<rect x="210" y="417" width="3" height="12"/>
<rect x="218" y="417" width="3" height="14"/>
<rect x="226" y="417" width="3" height="14"/>
<rect x="234" y="417" width="3" height="17"/>
<rect x="242" y="417" width="3" height="20"/>
<rect x="250" y="417" width="3" height="16"/>
<rect x="258" y="417" width="3" height="16"/>
<rect x="266" y="417" width="3" height="17"/>
<rect x="274" y="417" width="3" height="15"/>
<rect x="282" y="417" width="3" height="14"/>
<rect x="290" y="417" width="3" height="13"/>
<rect x="298" y="417" width="3" height="10"/>
<rect x="306" y="417" width="3" height="8"/>
<rect x="314" y="417" width="3" height="4"/>
<rect x="322" y="417" width="3" height="3"/>
<rect x="330" y="417" width="3" height="5"/>
<rect x="338" y="417" width="3" height="5"/>
<rect x="346" y="417" width="3" height="5"/>
<rect x="354" y="417" width="3" height="8"/>
<rect x="362" y="417" width="3" height="9"/>
<rect x="370" y="417" width="3" height="9"/>
<rect x="378" y="417" width="3" height="7"/>
<rect x="386" y="417" width="3" height="3"/>
<rect x="394" y="416" width="3" height="1"/>
<rect x="402" y="414" width="3" height="3"/>
<rect x="410" y="414" width="3" height="3"/>
<rect x="418" y="413" width="3" height="4"/>
<rect x="426" y="412" width="3" height="5"/>
<rect x="434" y="411" width="3" height="6"/>
<rect x="442" y="411" width="3" height="6"/>
<rect x="450" y="409" width="3" height="8"/>
<rect x="458" y="407" width="3" height="10"/>
<rect x="466" y="407" width="3" height="10"/>
<rect x="474" y="405" width="3" height="12"/>
<rect x="482" y="409" width="3" height="8"/>
<rect x="490" y="410" width="3" height="7"/>
<rect x="498" y="410" width="3" height="7"/>
<rect x="506" y="411" width="3" height="6"/>
<rect x="514" y="409" width="3" height="8"/>
<rect x="522" y="409" width="3" height="8"/>
<rect x="530" y="404" width="3" height="13"/>
<rect x="538" y="400" width="3" height="17"/>
<rect x="546" y="400" width="3" height="17"/>
<rect x="554" y="401" width="3" height="16"/>
<rect x="562" y="401" width="3" height="16"/>
<rect x="570" y="403" width="3" height="14"/>
<rect x="578" y="407" width="3" height="10"/>
<rect x="586" y="411" width="3" height="6"/>
<rect x="594" y="415" width="3" height="2"/>
<rect x="602" y="417" width="3" height="1"/>
<rect x="610" y="417" width="3" height="4"/>
<rect x="618" y="417" width="3" height="6"/>
<rect x="626" y="417" width="3" height="7"/>
<rect x="634" y="417" width="3" height="8"/>
<rect x="642" y="417" width="3" height="8"/>
<rect x="650" y="417" width="3" height="6"/>
<rect x="658" y="417" width="3" height="4"/>
<rect x="666" y="417" width="3" height="3"/>
<rect x="674" y="417" width="3" height="1"/>
<rect x="682" y="414" width="3" height="3"/>
<rect x="690" y="412" width="3" height="5"/>
<rect x="698" y="411" width="3" height="6"/>
<rect x="706" y="411" width="3" height="6"/>
<rect x="714" y="413" width="3" height="4"/>
<rect x="722" y="416" width="3" height="1"/>
<rect x="730" y="417" width="3" height="3"/>
<rect x="738" y="417" width="3" height="6"/>
<rect x="746" y="417" width="3" height="10"/>
<rect x="754" y="417" width="3" height="14"/>
<rect x="762" y="417" width="3" height="17"/>
<rect x="770" y="417" width="3" height="19"/>
<rect x="778" y="417" width="3" height="21"/>
<rect x="786" y="417" width="3" height="23"/>
<rect x="794" y="417" width="3" height="23"/>
<rect x="802" y="417" width="3" height="22"/>
<rect x="810" y="417" width="3" height="20"/>
<rect x="818" y="417" width="3" height="17"/>
<rect x="826" y="417" width="3" height="15"/>
<rect x="834" y="417" width="3" height="13"/>
<rect x="842" y="417" width="3" height="12"/>
<rect x="850" y="417" width="3" height="10"/>
<rect x="858" y="417" width="3" height="8"/>
<rect x="866" y="417" width="3" height="6"/>
<rect x="874" y="417" width="3" height="3"/>
<rect x="882" y="417" width="3" height="1"/>
<rect x="890" y="417" width="3" height="1"/>
<rect x="898" y="417" width="3" height="3"/>
<rect x="906" y="417" width="3" height="3"/>
</g>
<path class="ce" d="M562,404.5h30M558,405.5h4M592,405.5h8M552,406.5h6M600,406.5h6M536,407.5h16M606,407.5h4M512,408.5h24M610,408.5h3M474,409.5h38M613,409.5h3M470,410.5h4M616,410.5h2M464,411.5h6M618,411.5h4M456,412.5h8M622,412.5h4M448,413.5h8M626,413.5h3M442,414.5h6M629,414.5h3M728,414.5h8M438,415.5h4M632,415.5h2M712,415.5h16M736,415.5h8M432,416.5h6M634,416.5h4M706,416.5h6M744,416.5h8M424,417.5h8M638,417.5h4M702,417.5h4M752,417.5h5M418,418.5h6M642,418.5h6M696,418.5h6M757,418.5h3M414,419.5h4M648,419.5h6M688,419.5h8M760,419.5h2M408,420.5h6M654,420.5h4M680,420.5h8M762,420.5h3M906,420.5h2M400,421.5h8M658,421.5h22M765,421.5h3M902,421.5h4M352,422.5h48M768,422.5h2M896,422.5h6M344,423.5h8M770,423.5h4M890,423.5h6M338,424.5h6M774,424.5h4M886,424.5h4M334,425.5h4M778,425.5h3M882,425.5h4M328,426.5h6M781,426.5h3M878,426.5h4M322,427.5h6M784,427.5h2M874,427.5h4M318,428.5h4M786,428.5h3M870,428.5h4M314,429.5h4M789,429.5h3M866,429.5h4M310,430.5h4M792,430.5h2M862,430.5h4M232,431.5h40M304,431.5h6M794,431.5h4M858,431.5h4M226,432.5h6M272,432.5h32M798,432.5h4M854,432.5h4M3,433.5h3M222,433.5h4M802,433.5h4M848,433.5h6M6,434.5h4M218,434.5h4M806,434.5h4M840,434.5h8M10,435.5h4M214,435.5h4M810,435.5h14M832,435.5h8M14,436.5h4M210,436.5h4M824,436.5h8M18,437.5h4M208,437.5h2M22,438.5h4M205,438.5h3M26,439.5h4M200,439.5h5M30,440.5h4M192,440.5h8M34,441.5h4M186,441.5h6M38,442.5h4M182,442.5h4M42,443.5h3M176,443.5h6M45,444.5h3M128,444.5h48M48,445.5h2M120,445.5h8M50,446.5h4M112,446.5h8M54,447.5h4M106,447.5h6M58,448.5h6M102,448.5h4M64,449.5h8M96,449.5h6M72,450.5h24" fill="none" stroke="#ff0000" stroke-width="1"/>
<text x="7.7" y="409.2" font-size="10.2" fill="#000" textLength="153.0" lengthAdjust="spacingAndGlyphs" stroke="#000" stroke-width="0.22">MACD(12,26,9) -0.000390 -0.000712</text>
<text x="1157.1" y="406.6" font-size="10.2" fill="#000" textLength="38.2" lengthAdjust="spacingAndGlyphs" stroke="#000" stroke-width="0.22">0.003216</text>
<text x="1157.1" y="420.5" font-size="10.2" fill="#000" textLength="17.8" lengthAdjust="spacingAndGlyphs" stroke="#000" stroke-width="0.22">0.00</text>
<text x="1157.1" y="453.4" font-size="10.2" fill="#000" textLength="40.2" lengthAdjust="spacingAndGlyphs" stroke="#000" stroke-width="0.22">-0.006485</text>
<rect class="ce" x="1154" y="417" width="2" height="1" fill="#000"/>
</g>
<g id="rsi">
<g class="ce" stroke="#c0c0c0" stroke-width="1" stroke-dasharray="3,3">
<line x1="4" y1="502.5" x2="1153" y2="502.5"/>
<line x1="4" y1="556.5" x2="1153" y2="556.5"/>
</g>
<path class="ce" d="M536,512.5h4M531,513.5h5M540,513.5h1M530,514.5h1M541,514.5h1M475,515.5h1M529,515.5h1M542,515.5h1M473,516.5h3M528,516.5h1M543,516.5h1M683,516.5h5M472,517.5h1M476,517.5h1M527,517.5h1M544,517.5h1M682,517.5h1M688,517.5h5M456,518.5h6M470,518.5h2M476,518.5h1M515,518.5h2M527,518.5h1M545,518.5h1M681,518.5h1M693,518.5h3M451,519.5h5M462,519.5h4M468,519.5h2M477,519.5h1M514,519.5h1M517,519.5h2M526,519.5h1M546,519.5h1M680,519.5h1M696,519.5h2M872,519.5h12M315,520.5h1M387,520.5h5M450,520.5h1M466,520.5h2M477,520.5h1M513,520.5h1M519,520.5h2M525,520.5h1M547,520.5h3M679,520.5h1M698,520.5h2M867,520.5h5M884,520.5h1M313,521.5h2M316,521.5h1M386,521.5h1M392,521.5h12M448,521.5h2M477,521.5h1M513,521.5h1M521,521.5h2M524,521.5h1M550,521.5h4M679,521.5h1M700,521.5h1M866,521.5h1M885,521.5h1M179,522.5h1M312,522.5h1M317,522.5h1M385,522.5h1M404,522.5h1M419,522.5h2M447,522.5h1M478,522.5h1M512,522.5h1M523,522.5h1M554,522.5h10M659,522.5h1M678,522.5h1M701,522.5h1M864,522.5h2M885,522.5h1M177,523.5h2M180,523.5h2M310,523.5h2M318,523.5h1M384,523.5h1M405,523.5h1M418,523.5h1M421,523.5h3M446,523.5h1M478,523.5h1M511,523.5h1M564,523.5h2M657,523.5h2M660,523.5h2M677,523.5h1M702,523.5h2M863,523.5h1M886,523.5h1M176,524.5h1M182,524.5h1M308,524.5h2M319,524.5h1M383,524.5h1M406,524.5h1M417,524.5h1M424,524.5h2M432,524.5h8M444,524.5h2M479,524.5h1M510,524.5h1M566,524.5h2M655,524.5h2M662,524.5h2M676,524.5h1M704,524.5h1M862,524.5h1M887,524.5h1M174,525.5h2M183,525.5h1M304,525.5h4M319,525.5h1M382,525.5h1M407,525.5h1M416,525.5h1M426,525.5h6M440,525.5h4M479,525.5h1M509,525.5h1M568,525.5h1M653,525.5h2M664,525.5h1M674,525.5h2M705,525.5h1M860,525.5h2M888,525.5h1M172,526.5h2M184,526.5h2M299,526.5h5M320,526.5h1M381,526.5h1M408,526.5h1M414,526.5h2M479,526.5h1M498,526.5h4M509,526.5h1M569,526.5h2M651,526.5h2M665,526.5h2M670,526.5h4M706,526.5h1M859,526.5h1M889,526.5h1M99,527.5h1M170,527.5h2M186,527.5h1M298,527.5h1M321,527.5h1M380,527.5h1M409,527.5h1M413,527.5h1M480,527.5h1M496,527.5h2M502,527.5h4M508,527.5h1M571,527.5h1M649,527.5h2M667,527.5h3M707,527.5h1M857,527.5h2M889,527.5h1M98,528.5h1M100,528.5h2M168,528.5h2M187,528.5h2M251,528.5h1M297,528.5h1M322,528.5h1M379,528.5h1M410,528.5h1M412,528.5h1M480,528.5h1M493,528.5h3M506,528.5h2M572,528.5h1M647,528.5h2M708,528.5h2M855,528.5h2M890,528.5h1M97,529.5h1M102,529.5h1M165,529.5h3M189,529.5h3M202,529.5h2M251,529.5h2M296,529.5h1M323,529.5h1M339,529.5h2M377,529.5h2M411,529.5h1M481,529.5h1M491,529.5h2M573,529.5h1M645,529.5h2M710,529.5h2M853,529.5h2M891,529.5h1M96,530.5h1M103,530.5h1M163,530.5h2M192,530.5h2M198,530.5h4M204,530.5h1M250,530.5h1M253,530.5h1M294,530.5h2M324,530.5h1M338,530.5h1M341,530.5h3M375,530.5h2M481,530.5h1M490,530.5h1M574,530.5h1M643,530.5h2M712,530.5h1M819,530.5h11M850,530.5h3M892,530.5h1M95,531.5h1M104,531.5h2M162,531.5h1M194,531.5h4M205,531.5h1M250,531.5h1M254,531.5h1M280,531.5h6M293,531.5h1M325,531.5h1M337,531.5h1M344,531.5h2M373,531.5h2M481,531.5h1M488,531.5h2M575,531.5h1M642,531.5h1M713,531.5h2M817,531.5h2M830,531.5h4M848,531.5h2M893,531.5h1M95,532.5h1M106,532.5h1M162,532.5h1M206,532.5h1M249,532.5h1M255,532.5h1M275,532.5h5M286,532.5h4M292,532.5h1M326,532.5h2M336,532.5h1M346,532.5h2M371,532.5h2M482,532.5h1M487,532.5h1M576,532.5h1M641,532.5h1M715,532.5h1M815,532.5h2M834,532.5h6M845,532.5h3M893,532.5h1M94,533.5h1M107,533.5h1M161,533.5h1M207,533.5h1M249,533.5h1M256,533.5h1M273,533.5h2M290,533.5h2M328,533.5h1M334,533.5h2M348,533.5h1M370,533.5h1M482,533.5h1M486,533.5h1M577,533.5h1M641,533.5h1M716,533.5h2M813,533.5h2M840,533.5h5M894,533.5h1M93,534.5h1M108,534.5h1M160,534.5h1M207,534.5h1M248,534.5h1M257,534.5h1M272,534.5h1M329,534.5h1M333,534.5h1M349,534.5h1M368,534.5h2M483,534.5h3M578,534.5h1M640,534.5h1M718,534.5h1M811,534.5h2M895,534.5h1M92,535.5h1M109,535.5h1M160,535.5h1M208,535.5h1M248,535.5h1M258,535.5h1M270,535.5h2M330,535.5h1M332,535.5h1M350,535.5h2M367,535.5h1M483,535.5h1M579,535.5h3M627,535.5h1M639,535.5h1M719,535.5h1M810,535.5h1M896,535.5h1M907,535.5h1M91,536.5h1M109,536.5h1M159,536.5h1M209,536.5h1M247,536.5h1M259,536.5h5M268,536.5h2M331,536.5h1M352,536.5h1M366,536.5h1M582,536.5h4M625,536.5h2M628,536.5h2M638,536.5h1M720,536.5h2M809,536.5h1M897,536.5h1M905,536.5h2M89,537.5h2M110,537.5h1M158,537.5h1M210,537.5h1M247,537.5h1M264,537.5h4M353,537.5h1M364,537.5h2M586,537.5h4M624,537.5h1M630,537.5h2M637,537.5h1M722,537.5h1M808,537.5h1M897,537.5h1M903,537.5h2M87,538.5h2M111,538.5h1M158,538.5h1M211,538.5h5M224,538.5h4M247,538.5h1M354,538.5h1M360,538.5h4M590,538.5h4M600,538.5h8M622,538.5h2M632,538.5h1M637,538.5h1M723,538.5h2M806,538.5h2M898,538.5h1M901,538.5h2M85,539.5h2M112,539.5h1M157,539.5h1M216,539.5h8M228,539.5h2M246,539.5h1M355,539.5h5M594,539.5h6M608,539.5h8M620,539.5h2M633,539.5h2M636,539.5h1M725,539.5h2M805,539.5h1M899,539.5h2M83,540.5h2M113,540.5h1M156,540.5h1M230,540.5h1M246,540.5h1M616,540.5h4M635,540.5h1M727,540.5h2M804,540.5h1M81,541.5h2M113,541.5h1M156,541.5h1M231,541.5h1M245,541.5h1M729,541.5h2M802,541.5h2M79,542.5h2M114,542.5h1M154,542.5h2M232,542.5h2M245,542.5h1M731,542.5h2M800,542.5h2M59,543.5h3M77,543.5h2M115,543.5h3M150,543.5h4M234,543.5h1M244,543.5h1M733,543.5h2M797,543.5h3M58,544.5h1M62,544.5h4M72,544.5h5M118,544.5h4M147,544.5h3M235,544.5h3M244,544.5h1M735,544.5h2M795,544.5h2M58,545.5h1M66,545.5h6M122,545.5h2M145,545.5h2M238,545.5h4M243,545.5h1M737,545.5h2M794,545.5h1M57,546.5h1M124,546.5h1M143,546.5h2M242,546.5h2M739,546.5h5M793,546.5h1M57,547.5h1M125,547.5h1M141,547.5h2M744,547.5h4M792,547.5h1M27,548.5h2M56,548.5h1M125,548.5h1M139,548.5h2M748,548.5h1M763,548.5h3M791,548.5h1M26,549.5h1M29,549.5h3M56,549.5h1M126,549.5h1M138,549.5h1M749,549.5h1M762,549.5h1M766,549.5h4M791,549.5h1M24,550.5h2M32,550.5h2M55,550.5h1M127,550.5h1M137,550.5h1M750,550.5h2M760,550.5h2M770,550.5h6M790,550.5h1M23,551.5h1M34,551.5h4M55,551.5h1M128,551.5h1M136,551.5h1M752,551.5h1M759,551.5h1M776,551.5h6M789,551.5h1M22,552.5h1M38,552.5h4M54,552.5h1M129,552.5h1M134,552.5h2M753,552.5h1M758,552.5h1M782,552.5h4M788,552.5h1M20,553.5h2M42,553.5h2M54,553.5h1M129,553.5h1M133,553.5h1M754,553.5h1M756,553.5h2M786,553.5h2M18,554.5h2M44,554.5h2M53,554.5h1M130,554.5h1M132,554.5h1M755,554.5h1M3,555.5h3M16,555.5h2M46,555.5h2M53,555.5h1M131,555.5h1M6,556.5h4M13,556.5h3M48,556.5h1M52,556.5h1M10,557.5h3M49,557.5h2M52,557.5h1M51,558.5h1" fill="none" stroke="#1e90ff" stroke-width="1"/>
<text x="7.4" y="471.7" font-size="10.2" fill="#000" textLength="67.6" lengthAdjust="spacingAndGlyphs" stroke="#000" stroke-width="0.22">RSI(14) 46.4716</text>
<text x="1157.1" y="469.6" font-size="10.2" fill="#000" textLength="14.2" lengthAdjust="spacingAndGlyphs" stroke="#000" stroke-width="0.22">100</text>
<text x="1156.6" y="506.0" font-size="10.2" fill="#000" textLength="9.4" lengthAdjust="spacingAndGlyphs" stroke="#000" stroke-width="0.22">70</text>
<text x="1156.6" y="559.7" font-size="10.2" fill="#000" textLength="9.4" lengthAdjust="spacingAndGlyphs" stroke="#000" stroke-width="0.22">30</text>
<text x="1157.5" y="594.7" font-size="10.2" fill="#000" textLength="4.6" lengthAdjust="spacingAndGlyphs" stroke="#000" stroke-width="0.22">0</text>
<rect class="ce" x="1154" y="461" width="2" height="1" fill="#000"/>
</g>
<g id="time-axis">
<rect class="ce" x="3" y="599" width="1" height="3" fill="#000"/>
<text x="1.8" y="610.8" font-size="10.2" fill="#000" textLength="50.9" lengthAdjust="spacingAndGlyphs" stroke="#000" stroke-width="0.22">24 Oct 2018</text>
<rect class="ce" x="67" y="599" width="1" height="3" fill="#000"/>
<text x="66.0" y="610.8" font-size="10.2" fill="#000" textLength="48.0" lengthAdjust="spacingAndGlyphs" stroke="#000" stroke-width="0.22">2 Nov 2018</text>
<rect class="ce" x="131" y="599" width="1" height="3" fill="#000"/>
<text x="130.0" y="610.8" font-size="10.2" fill="#000" textLength="53.3" lengthAdjust="spacingAndGlyphs" stroke="#000" stroke-width="0.22">12 Nov 2018</text>
<rect class="ce" x="195" y="599" width="1" height="3" fill="#000"/>
<text x="194.3" y="610.8" font-size="10.2" fill="#000" textLength="53.4" lengthAdjust="spacingAndGlyphs" stroke="#000" stroke-width="0.22">21 Nov 2018</text>
<rect class="ce" x="259" y="599" width="1" height="3" fill="#000"/>
<text x="258.3" y="610.8" font-size="10.2" fill="#000" textLength="53.4" lengthAdjust="spacingAndGlyphs" stroke="#000" stroke-width="0.22">30 Nov 2018</text>
<rect class="ce" x="323" y="599" width="1" height="3" fill="#000"/>
<text x="322.7" y="610.8" font-size="10.2" fill="#000" textLength="51.6" lengthAdjust="spacingAndGlyphs" stroke="#000" stroke-width="0.22">10 Dec 2018</text>
<rect class="ce" x="387" y="599" width="1" height="3" fill="#000"/>
<text x="386.7" y="610.8" font-size="10.2" fill="#000" textLength="51.0" lengthAdjust="spacingAndGlyphs" stroke="#000" stroke-width="0.22">19 Dec 2018</text>
<rect class="ce" x="451" y="599" width="1" height="3" fill="#000"/>
<text x="450.0" y="610.8" font-size="10.2" fill="#000" textLength="51.7" lengthAdjust="spacingAndGlyphs" stroke="#000" stroke-width="0.22">28 Dec 2018</text>
<rect class="ce" x="515" y="599" width="1" height="3" fill="#000"/>
<text x="514.3" y="610.8" font-size="10.2" fill="#000" textLength="44.4" lengthAdjust="spacingAndGlyphs" stroke="#000" stroke-width="0.22">7 Jan 2019</text>
<rect class="ce" x="579" y="599" width="1" height="3" fill="#000"/>
<text x="578.3" y="610.8" font-size="10.2" fill="#000" textLength="49.0" lengthAdjust="spacingAndGlyphs" stroke="#000" stroke-width="0.22">16 Jan 2019</text>
<rect class="ce" x="643" y="599" width="1" height="3" fill="#000"/>
<text x="642.3" y="610.8" font-size="10.2" fill="#000" textLength="49.4" lengthAdjust="spacingAndGlyphs" stroke="#000" stroke-width="0.22">25 Jan 2019</text>
<rect class="ce" x="707" y="599" width="1" height="3" fill="#000"/>
<text x="706.0" y="610.8" font-size="10.2" fill="#000" textLength="46.3" lengthAdjust="spacingAndGlyphs" stroke="#000" stroke-width="0.22">4 Feb 2019</text>
<rect class="ce" x="771" y="599" width="1" height="3" fill="#000"/>
<text x="770.0" y="610.8" font-size="10.2" fill="#000" textLength="51.7" lengthAdjust="spacingAndGlyphs" stroke="#000" stroke-width="0.22">13 Feb 2019</text>
<rect class="ce" x="835" y="599" width="1" height="3" fill="#000"/>
<text x="834.3" y="610.8" font-size="10.2" fill="#000" textLength="51.7" lengthAdjust="spacingAndGlyphs" stroke="#000" stroke-width="0.22">22 Feb 2019</text>
<rect class="ce" x="899" y="599" width="1" height="3" fill="#000"/>
<text x="898.3" y="610.8" font-size="10.2" fill="#000" textLength="46.7" lengthAdjust="spacingAndGlyphs" stroke="#000" stroke-width="0.22">4 Mar 2019</text>
</g>
<g id="chart-tabs">
<g class="ce">
<rect x="0" y="619" width="1199" height="1" fill="#e6e6e6"/>
<rect x="0" y="620" width="1199" height="27" fill="#f0f0f0"/>
<rect x="0" y="621" width="1199" height="1" fill="#000"/>
<rect x="4" y="620" width="104" height="20" fill="#fff"/>
<rect x="4" y="621" width="1" height="19" fill="#000"/>
<rect x="107" y="621" width="1" height="19" fill="#000"/>
<rect x="4" y="639" width="104" height="1" fill="#000"/>
<rect x="5" y="640" width="104" height="1" fill="#c4c4c4"/>
<rect x="108" y="622" width="1" height="18" fill="#c4c4c4"/>
<rect x="0" y="641" width="1199" height="1" fill="#fff"/>
<rect x="0" y="644" width="1199" height="1" fill="#f4f4f4"/>
<rect x="0" y="645" width="1199" height="1" fill="#a0a0a0"/>
<rect x="0" y="646" width="1199" height="1" fill="#fff"/>
<rect x="212" y="625" width="1" height="13" fill="#7a7a7a"/>
<rect x="312" y="625" width="1" height="13" fill="#7a7a7a"/>
<rect x="416" y="625" width="1" height="13" fill="#7a7a7a"/>
<rect x="508" y="625" width="1" height="13" fill="#7a7a7a"/>
<rect x="604" y="625" width="1" height="13" fill="#7a7a7a"/>
<rect x="696" y="625" width="1" height="13" fill="#7a7a7a"/>
<rect x="788" y="625" width="1" height="13" fill="#7a7a7a"/>
<rect x="876" y="625" width="1" height="13" fill="#7a7a7a"/>
<rect x="968" y="625" width="1" height="13" fill="#7a7a7a"/>
<rect x="1036" y="625" width="1" height="13" fill="#7a7a7a"/>
<rect x="1128" y="625" width="1" height="13" fill="#7a7a7a"/>
</g>
<text x="16.5" y="636.0" font-size="13.2" fill="#000" textLength="79.0" lengthAdjust="spacingAndGlyphs">EURUSD,Daily</text>
<text x="119.0" y="636.0" font-size="13.2" fill="#666" textLength="82.0" lengthAdjust="spacingAndGlyphs">AUDUSD,Daily</text>
<text x="222.0" y="636.0" font-size="13.2" fill="#666" textLength="78.6" lengthAdjust="spacingAndGlyphs">USDCHF,Daily</text>
<text x="323.5" y="636.0" font-size="13.2" fill="#666" textLength="80.6" lengthAdjust="spacingAndGlyphs">USDCAD,Daily</text>
<text x="426.0" y="636.0" font-size="13.2" fill="#666" textLength="71.0" lengthAdjust="spacingAndGlyphs">USDCNH,H4</text>
<text x="518.3" y="636.0" font-size="13.2" fill="#666" textLength="74.7" lengthAdjust="spacingAndGlyphs">USDJPY,Daily</text>
<text x="615.2" y="636.0" font-size="13.2" fill="#666" textLength="68.8" lengthAdjust="spacingAndGlyphs">XAUUSD,H4</text>
<text x="708.0" y="636.0" font-size="13.2" fill="#666" textLength="68.5" lengthAdjust="spacingAndGlyphs">GBPUSD,H4</text>
<text x="800.0" y="636.0" font-size="13.2" fill="#666" textLength="63.7" lengthAdjust="spacingAndGlyphs">SP500,M15</text>
<text x="888.0" y="636.0" font-size="13.2" fill="#666" textLength="67.8" lengthAdjust="spacingAndGlyphs">GBPUSD,H1</text>
<text x="978.4" y="636.0" font-size="13.2" fill="#666" textLength="46.6" lengthAdjust="spacingAndGlyphs">DJ30,H4</text>
<text x="1046.2" y="636.0" font-size="13.2" fill="#666" textLength="70.0" lengthAdjust="spacingAndGlyphs">TECH100,H1</text>
<clipPath id="cpTab"><rect x="1130" y="622" width="33" height="20"/></clipPath>
<text x="1140.6" y="636.0" font-size="13.2" fill="#666" textLength="62.0" lengthAdjust="spacingAndGlyphs" clip-path="url(#cpTab)">UKOIL,H1</text>
<polygon points="1172.5,626.5 1172.5,633.5 1169,630" fill="#9a9a9a"/>
<polygon points="1187.5,626.5 1187.5,633.5 1191,630" fill="#000"/>
</g>
</svg>
</body></html>
